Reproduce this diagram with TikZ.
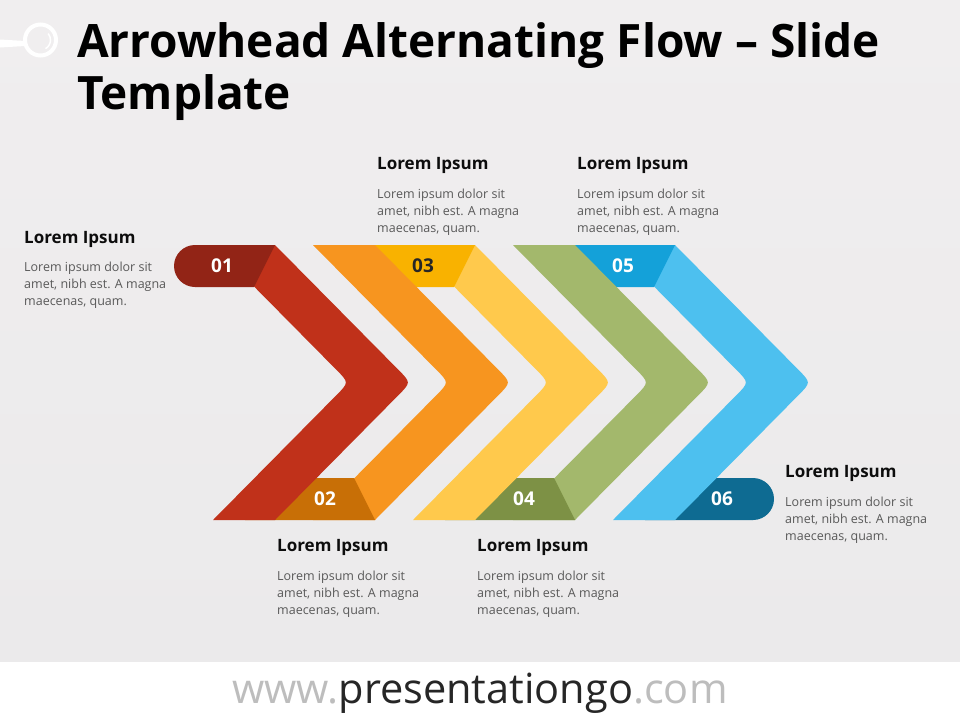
\documentclass[tikz,border=0pt]{standalone}
\usepackage{fontspec}
\setmainfont{Open Sans}
\usepackage{tikz}

\definecolor{bgtop}{HTML}{F0EEEF}
\definecolor{bgbot}{HTML}{EBEAEB}
\definecolor{headtxt}{HTML}{0D0D0D}
\definecolor{bodytxt}{HTML}{595959}
\definecolor{webgray}{HTML}{BDBDBD}
\definecolor{webdark}{HTML}{262626}
\definecolor{chevA}{HTML}{C0311A}
\definecolor{tabA}{HTML}{922416}
\definecolor{chevB}{HTML}{F7951F}
\definecolor{tabB}{HTML}{C86F06}
\definecolor{chevC}{HTML}{FFC94C}
\definecolor{tabC}{HTML}{F9B200}
\definecolor{chevD}{HTML}{A3B86C}
\definecolor{tabD}{HTML}{7D9145}
\definecolor{chevE}{HTML}{4DC0EF}
\definecolor{tabE}{HTML}{14A1D9}
\definecolor{tabF}{HTML}{0E6B92}

\begin{document}
\begin{tikzpicture}[
            x = 1pt, y = -1pt, % one unit per pixel, y going down
            every node/.style = {inner sep = 0pt}
        ]

        \tikzstyle{title}=[
            font = \fontsize{46}{50}\selectfont\bfseries,
            text = black,
            anchor = base west
        ]
        \tikzstyle{head}=[
            font = \fontsize{17}{20}\selectfont\bfseries,
            text = headtxt,
            anchor = base west
        ]
        \tikzstyle{body}=[
            font = \fontsize{12.5}{17}\selectfont,
            text = bodytxt,
            align = left,
            anchor = north west
        ]
        \tikzstyle{num}=[
            font = \fontsize{19}{20}\selectfont\bfseries,
            text = white
        ]

        \useasboundingbox (0,0) rectangle (960,720);

        % slide background and footer
        \shade[top color = bgtop, bottom color = bgbot] (0,0) rectangle (960,662);
        \fill[white] (0,662) rectangle (960,720);

        % logo
        \fill[white] (0,39.5) -- (25,41) -- (25,46) -- (0,47.5) -- cycle;
        \draw[white, line width = 4pt] (40.5,40) circle [radius = 15.5pt];
        \draw[white, line width = 1.5pt] (40.5,40) ++(60:10) arc (60:-40:10);

        \node[title] (title1) at (77,57) {Arrowhead Alternating Flow – Slide};
        \node[title] (title2) at (77,109) {Template};

        % chevrons, back to front
        \fill[tabF] (686,478) -- (753,478) -- (753,520) -- (645,520) -- cycle;
        \fill[tabF] (753,499) circle [radius = 21pt];
        \fill[chevE, xshift = 400pt] (213,245) -- (275,245) -- (398.3,369.7) .. controls (411,382.5) .. (398.3,395.3)
            -- (275,520) -- (213,520) -- (336.3,395.3) .. controls (349,382.5) .. (336.3,369.7) -- cycle;
        \fill[tabE] (544,245) -- (675,245) -- (654,287) -- (585,287) -- cycle;

        \fill[chevD, xshift = 300pt] (213,245) -- (275,245) -- (398.3,369.7) .. controls (411,382.5) .. (398.3,395.3)
            -- (275,520) -- (213,520) -- (336.3,395.3) .. controls (349,382.5) .. (336.3,369.7) -- cycle;
        \fill[tabD] (486,478) -- (554,478) -- (575,520) -- (445,520) -- cycle;

        \fill[chevC, xshift = 200pt] (213,245) -- (275,245) -- (398.3,369.7) .. controls (411,382.5) .. (398.3,395.3)
            -- (275,520) -- (213,520) -- (336.3,395.3) .. controls (349,382.5) .. (336.3,369.7) -- cycle;
        \fill[tabC] (344,245) -- (475,245) -- (454,287) -- (385,287) -- cycle;

        \fill[chevB, xshift = 100pt] (213,245) -- (275,245) -- (398.3,369.7) .. controls (411,382.5) .. (398.3,395.3)
            -- (275,520) -- (213,520) -- (336.3,395.3) .. controls (349,382.5) .. (336.3,369.7) -- cycle;
        \fill[tabB] (286,478) -- (354,478) -- (375,520) -- (245,520) -- cycle;

        \fill[chevA] (213,245) -- (275,245) -- (398.3,369.7) .. controls (411,382.5) .. (398.3,395.3)
            -- (275,520) -- (213,520) -- (336.3,395.3) .. controls (349,382.5) .. (336.3,369.7) -- cycle;
        \fill[tabA] (195,245) -- (275,245) -- (254,287) -- (195,287) -- cycle;
        \fill[tabA] (195,266) circle [radius = 21pt];

        % step numbers
        \node[num] (n1) at (222,266) {01};
        \node[num] (n2) at (325,499) {02};
        \node[num, text = webdark] (n3) at (423,266) {03};
        \node[num] (n4) at (524,499) {04};
        \node[num] (n5) at (623,266) {05};
        \node[num] (n6) at (722,499) {06};

        % text blocks
        \node[head] (h1) at (24,243) {Lorem Ipsum};
        \node[body] (b1) at (24,262) {Lorem ipsum dolor sit\\amet, nibh est. A magna\\maecenas, quam.};
        \node[head] (h2) at (277,551.5) {Lorem Ipsum};
        \node[body] (b2) at (277,570.5) {Lorem ipsum dolor sit\\amet, nibh est. A magna\\maecenas, quam.};
        \node[head] (h3) at (377,169.5) {Lorem Ipsum};
        \node[body] (b3) at (377,188.5) {Lorem ipsum dolor sit\\amet, nibh est. A magna\\maecenas, quam.};
        \node[head] (h4) at (477,551.5) {Lorem Ipsum};
        \node[body] (b4) at (477,570.5) {Lorem ipsum dolor sit\\amet, nibh est. A magna\\maecenas, quam.};
        \node[head] (h5) at (577,169.5) {Lorem Ipsum};
        \node[body] (b5) at (577,188.5) {Lorem ipsum dolor sit\\amet, nibh est. A magna\\maecenas, quam.};
        \node[head] (h6) at (785,477.5) {Lorem Ipsum};
        \node[body] (b6) at (785,496.5) {Lorem ipsum dolor sit\\amet, nibh est. A magna\\maecenas, quam.};

        % footer
        \node[anchor = base, font = \fontsize{41.5}{42}\selectfont] (site) at (480,703)
            {\textcolor{webgray}{www.}\textcolor{webdark}{presentationgo}\textcolor{webgray}{.com}};

    \end{tikzpicture}
\end{document}
